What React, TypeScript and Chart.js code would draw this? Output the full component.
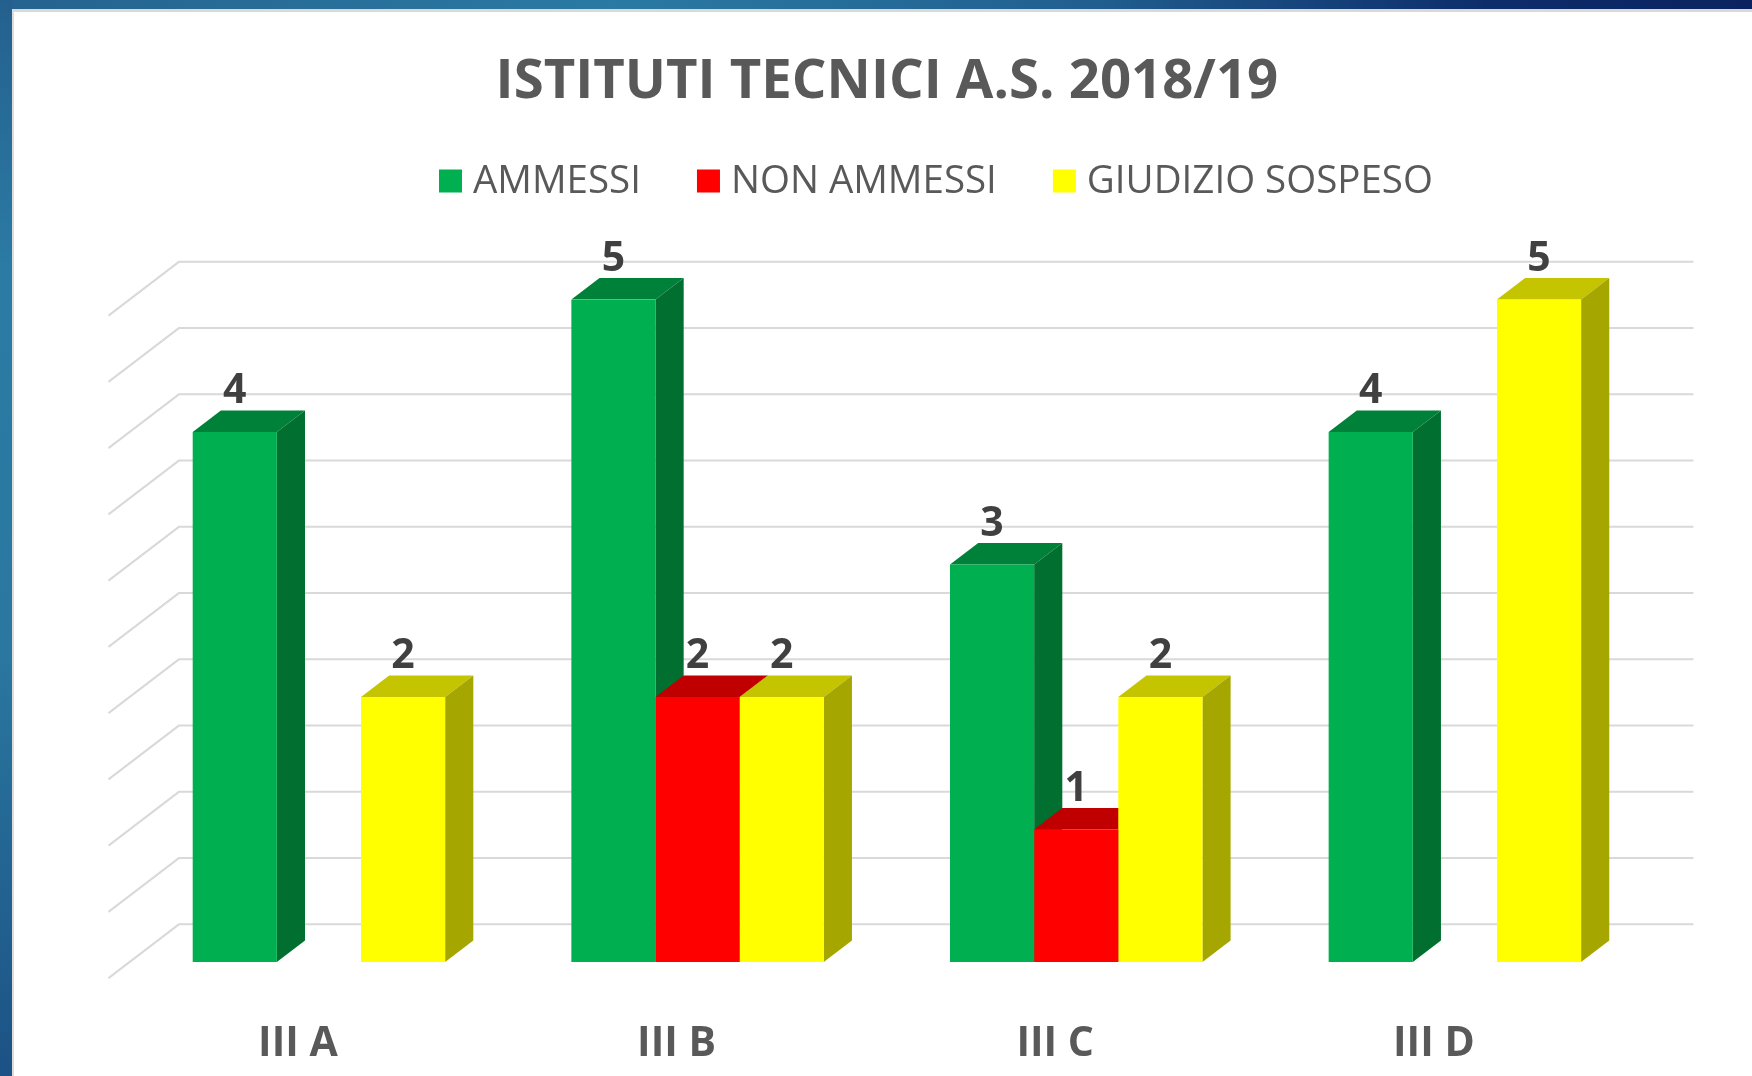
import React, { useEffect, useRef } from 'react';
import { Chart, registerables } from 'chart.js';

Chart.register(...registerables);

// ---- data ----
const TITLE = 'ISTITUTI TECNICI A.S. 2018/19';
const CATEGORIES = ['III A', 'III B', 'III C', 'III D'];
const SERIES_NAMES = ['AMMESSI', 'NON AMMESSI', 'GIUDIZIO SOSPESO'];
const AMMESSI = [4, 5, 3, 4];
const NON_AMMESSI = [0, 2, 1, 0];
const GIUDIZIO_SOSPESO = [2, 2, 2, 5];
const GRID_VALUES = [0, 0.5, 1, 1.5, 2, 2.5, 3, 3.5, 4, 4.5, 5];

// ---- styles ----
const FRONT = ['#00B050', '#FF0000', '#FFFF00'];
const TOP = ['#00813A', '#C00000', '#C4C400'];
const SIDE = ['#006F30', '#A00000', '#A6A600'];
const FONT = "'Open Sans', 'Noto Sans', sans-serif";
const TEXT = '#595959';
const LABEL = '#404040';

// depth vector of the 3D box (floor front edge -> back wall)
const DEPTH_X = 70.4;
const DEPTH_Y = -53.8;
const BAR_FRONT = 0.3; // depth fraction of bar front (= chart plane)
const BAR_BACK = 0.7;

const LEGEND_X = 439;
const LEGEND_Y = 182;
const LEGEND_BOX = 23;
const LEGEND_TEXT_GAP = 11;
const LEGEND_ITEM_GAP = 56;

const threeD = {
  id: 'threeD',
  beforeDatasetsDraw(chart: any) {
    const { ctx, chartArea } = chart;
    const ys = chart.scales.y;
    const wdx = (1 - BAR_FRONT) * DEPTH_X;
    const wdy = (1 - BAR_FRONT) * DEPTH_Y;
    const fdx = -BAR_FRONT * DEPTH_X;
    const fdy = -BAR_FRONT * DEPTH_Y;
    ctx.save();
    ctx.strokeStyle = '#d9d9d9';
    ctx.lineWidth = 2;
    for (const v of GRID_VALUES) {
      const yf = ys.getPixelForValue(v);
      ctx.beginPath();
      ctx.moveTo(chartArea.left + fdx, yf + fdy);
      ctx.lineTo(chartArea.left + wdx, yf + wdy);
      ctx.lineTo(chartArea.right + wdx, yf + wdy);
      ctx.stroke();
    }
    const bdx = (BAR_BACK - BAR_FRONT) * DEPTH_X;
    const bdy = (BAR_BACK - BAR_FRONT) * DEPTH_Y;
    chart.data.datasets.forEach((ds: any, i: number) => {
      const meta = chart.getDatasetMeta(i);
      meta.data.forEach((bar: any, j: number) => {
        if (!(ds.data[j] > 0)) return;
        const { x, y, base, width } = bar.getProps(['x', 'y', 'base', 'width'], true);
        const l = x - width / 2;
        const r = x + width / 2;
        ctx.fillStyle = TOP[i];
        ctx.beginPath();
        ctx.moveTo(l, y);
        ctx.lineTo(l + bdx, y + bdy);
        ctx.lineTo(r + bdx, y + bdy);
        ctx.lineTo(r, y);
        ctx.closePath();
        ctx.fill();
        ctx.fillStyle = SIDE[i];
        ctx.beginPath();
        ctx.moveTo(r, y);
        ctx.lineTo(r + bdx, y + bdy);
        ctx.lineTo(r + bdx, base + bdy);
        ctx.lineTo(r, base);
        ctx.closePath();
        ctx.fill();
      });
    });
    ctx.restore();
  },
  afterDatasetsDraw(chart: any) {
    const { ctx } = chart;
    ctx.save();
    ctx.fillStyle = LABEL;
    ctx.font = `bold 41px ${FONT}`;
    ctx.textAlign = 'center';
    ctx.textBaseline = 'middle';
    chart.data.datasets.forEach((ds: any, i: number) => {
      const meta = chart.getDatasetMeta(i);
      meta.data.forEach((bar: any, j: number) => {
        const v = ds.data[j];
        if (!(v > 0)) return;
        ctx.fillText(String(v), bar.x, bar.y - 40.5);
      });
    });
    ctx.restore();
  },
  afterDraw(chart: any) {
    const { ctx } = chart;
    ctx.save();
    ctx.font = `38.5px ${FONT}`;
    ctx.textBaseline = 'middle';
    ctx.textAlign = 'left';
    let x = LEGEND_X;
    chart.data.datasets.forEach((ds: any, i: number) => {
      ctx.fillStyle = FRONT[i];
      ctx.fillRect(x, LEGEND_Y - LEGEND_BOX / 2 - 1, LEGEND_BOX, LEGEND_BOX);
      x += LEGEND_BOX + LEGEND_TEXT_GAP;
      ctx.fillStyle = TEXT;
      ctx.fillText(ds.label, x, LEGEND_Y);
      x += ctx.measureText(ds.label).width + LEGEND_ITEM_GAP;
    });
    ctx.restore();
  },
};

export default function App() {
  const ref = useRef<HTMLCanvasElement | null>(null);
  useEffect(() => {
    if (!ref.current) return;
    const series = [AMMESSI, NON_AMMESSI, GIUDIZIO_SOSPESO];
    const chart = new Chart(ref.current, {
      type: 'bar',
      data: {
        labels: CATEGORIES,
        datasets: series.map((d, i) => ({
          label: SERIES_NAMES[i],
          data: d,
          backgroundColor: FRONT[i],
          borderWidth: 0,
          categoryPercentage: 0.6667,
          barPercentage: 1,
        })),
      },
      options: {
        animation: false,
        responsive: false,
        devicePixelRatio: 1,
        layout: { padding: { left: 129.6, right: 107.8, top: 0, bottom: 0 } },
        plugins: {
          legend: { display: false },
          tooltip: { enabled: false },
          title: {
            display: true,
            text: TITLE,
            color: TEXT,
            font: { family: FONT, size: 54.5, weight: 'bold', lineHeight: 1.2 },
            padding: { top: 49.3, bottom: 184.8 },
          },
        },
        scales: {
          x: {
            grid: { display: false, drawTicks: false },
            border: { display: false },
            ticks: {
              color: TEXT,
              font: { family: FONT, size: 41, weight: 'bold', lineHeight: 1.2 },
              padding: 57.8,
              labelOffset: -21,
            },
            afterFit: (s: any) => {
              s.height = 114;
            },
          },
          y: { display: false, min: 0, max: 5 },
        },
      } as any,
      plugins: [threeD],
    });
    return () => chart.destroy();
  }, []);

  return (
    <div style={{ position: 'fixed', left: 0, top: 0, width: 1752, height: 1076, overflow: 'hidden', background: '#ffffff' }}>
      <div
        style={{
          position: 'absolute', left: 0, top: 0, width: 1752, height: 9,
          background: 'linear-gradient(to right, #25628f 0%, #2a7aa3 35%, #215f90 62%, #0d2d6a 85%, #0a2260 100%)',
        }}
      />
      <div
        style={{
          position: 'absolute', left: 0, top: 0, width: 12, height: 1076,
          background: 'linear-gradient(to bottom, #24608e 0%, #2b7ba4 25%, #2a78a0 60%, #1c5285 100%)',
        }}
      />
      <div
        style={{
          position: 'absolute', left: 12, top: 9, right: 0, bottom: 0,
          borderTop: '3px solid #d9d9d9', borderLeft: '2px solid #dcdcdc', background: '#ffffff',
        }}
      />
      <canvas ref={ref} width={1752} height={1076} style={{ position: 'absolute', left: 0, top: 0, width: 1752, height: 1076 }} />
    </div>
  );
}
